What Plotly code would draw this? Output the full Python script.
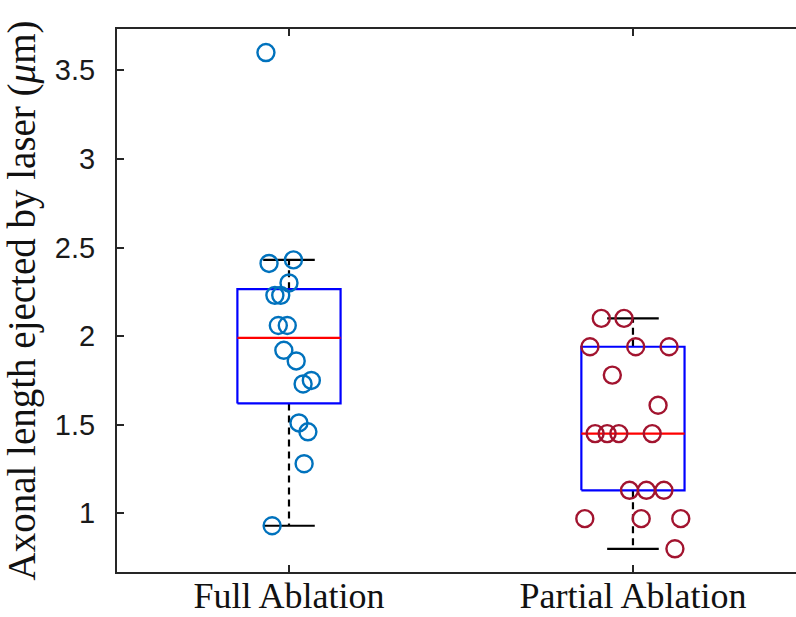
import numpy as np
import plotly.graph_objects as go

# Axonal length ejected by laser (µm), per ablation group
categories = ["Full Ablation", "Partial Ablation"]

full_values = [3.60, 2.41, 2.43, 2.30, 2.23, 2.23, 2.06, 2.06,
               1.92, 1.86, 1.73, 1.75, 1.51, 1.46, 1.28, 0.93]
full_jitter = [0.933, 0.942, 1.013, 1.000, 0.959, 0.976, 0.969, 0.995,
               0.985, 1.021, 1.041, 1.065, 1.029, 1.055, 1.044, 0.951]

partial_values = [2.10, 2.10, 1.94, 1.94, 1.94, 1.78, 1.61, 1.45, 1.45,
                  1.45, 1.45, 1.13, 1.13, 1.13, 0.97, 0.97, 0.97, 0.80]
partial_jitter = [1.908, 1.974, 1.875, 2.008, 2.105, 1.940, 2.073, 1.890, 1.925,
                  1.959, 2.056, 1.990, 2.039, 2.090, 1.860, 2.024, 2.139, 2.122]

y_ticks = [1, 1.5, 2, 2.5, 3, 3.5]
y_tick_labels = ["1", "1.5", "2", "2.5", "3", "3.5"]

point_colors = ["#0072BD", "#A2142F"]
BOX_HALF = 0.15
CAP_HALF = 0.075


def matlab_prctile(values, p):
    """Percentile with the midpoint convention used by MATLAB's boxplot."""
    v = np.sort(np.asarray(values, dtype=float))
    n = len(v)
    pos = n * p / 100.0 + 0.5
    if pos <= 1:
        return v[0]
    if pos >= n:
        return v[-1]
    lo = int(np.floor(pos))
    frac = pos - lo
    return v[lo - 1] + frac * (v[lo] - v[lo - 1])


def box_stats(values):
    v = np.asarray(values, dtype=float)
    q1 = matlab_prctile(v, 25)
    med = np.median(v)
    q3 = matlab_prctile(v, 75)
    iqr = q3 - q1
    upper = v[v <= q3 + 1.5 * iqr].max()
    lower = v[v >= q1 - 1.5 * iqr].min()
    return q1, med, q3, lower, upper


fig = go.Figure()

groups = [(full_values, full_jitter), (partial_values, partial_jitter)]

for i, (vals, jit) in enumerate(groups):
    c = i + 1
    q1, med, q3, lo, hi = box_stats(vals)

    # whiskers (dashed) from box edges to the extreme non-outlier values
    fig.add_trace(go.Scatter(
        x=[c, c, None, c, c], y=[q3, hi, None, q1, lo],
        mode="lines", line=dict(color="black", width=2.2, dash="7px,5px"),
        hoverinfo="skip"))
    # whisker caps
    fig.add_trace(go.Scatter(
        x=[c - CAP_HALF, c + CAP_HALF, None, c - CAP_HALF, c + CAP_HALF],
        y=[hi, hi, None, lo, lo],
        mode="lines", line=dict(color="black", width=2.2),
        hoverinfo="skip"))
    # box outline
    fig.add_trace(go.Scatter(
        x=[c - BOX_HALF, c + BOX_HALF, c + BOX_HALF, c - BOX_HALF, c - BOX_HALF],
        y=[q1, q1, q3, q3, q1],
        mode="lines", line=dict(color="#0000FF", width=2.2),
        hoverinfo="skip"))
    # median
    fig.add_trace(go.Scatter(
        x=[c - BOX_HALF, c + BOX_HALF], y=[med, med],
        mode="lines", line=dict(color="#FF0000", width=2.2),
        hoverinfo="skip"))

for i, (vals, jit) in enumerate(groups):
    fig.add_trace(go.Scatter(
        x=jit, y=vals, mode="markers", name=categories[i],
        marker=dict(symbol="circle-open", size=17,
                    color=point_colors[i], line=dict(width=2.4, color=point_colors[i]))))

axis_color = "#262626"

fig.update_layout(
    width=796, height=617,
    margin=dict(l=117, r=0, t=29, b=45),
    paper_bgcolor="white", plot_bgcolor="white",
    showlegend=False,
    xaxis=dict(
        range=[0.5, 2.474],
        tickvals=[1, 2], ticktext=categories,
        tickfont=dict(family="Liberation Serif", size=36, color="#111111"),
        ticks="inside", ticklen=7, tickwidth=2, tickcolor=axis_color,
        showline=True, linecolor=axis_color, linewidth=2, mirror="ticks",
        showgrid=False, zeroline=False, automargin=False,
        ticklabelstandoff=-9,
    ),
    yaxis=dict(
        range=[0.669, 3.733],
        tickvals=y_ticks, ticktext=y_tick_labels,
        tickfont=dict(family="Liberation Sans", size=29, color="#1a1a1a"),
        ticks="inside", ticklen=7, tickwidth=2, tickcolor=axis_color,
        showline=True, linecolor=axis_color, linewidth=2, mirror=False,
        showgrid=False, zeroline=False, automargin=False,
        ticklabelstandoff=14,
        title=dict(text="Axonal length ejected by laser (<i>μ</i>m)",
                   font=dict(family="Liberation Serif", size=39, color="#111111"),
                   standoff=8),
    ),
)

fig.write_html("out.html")
